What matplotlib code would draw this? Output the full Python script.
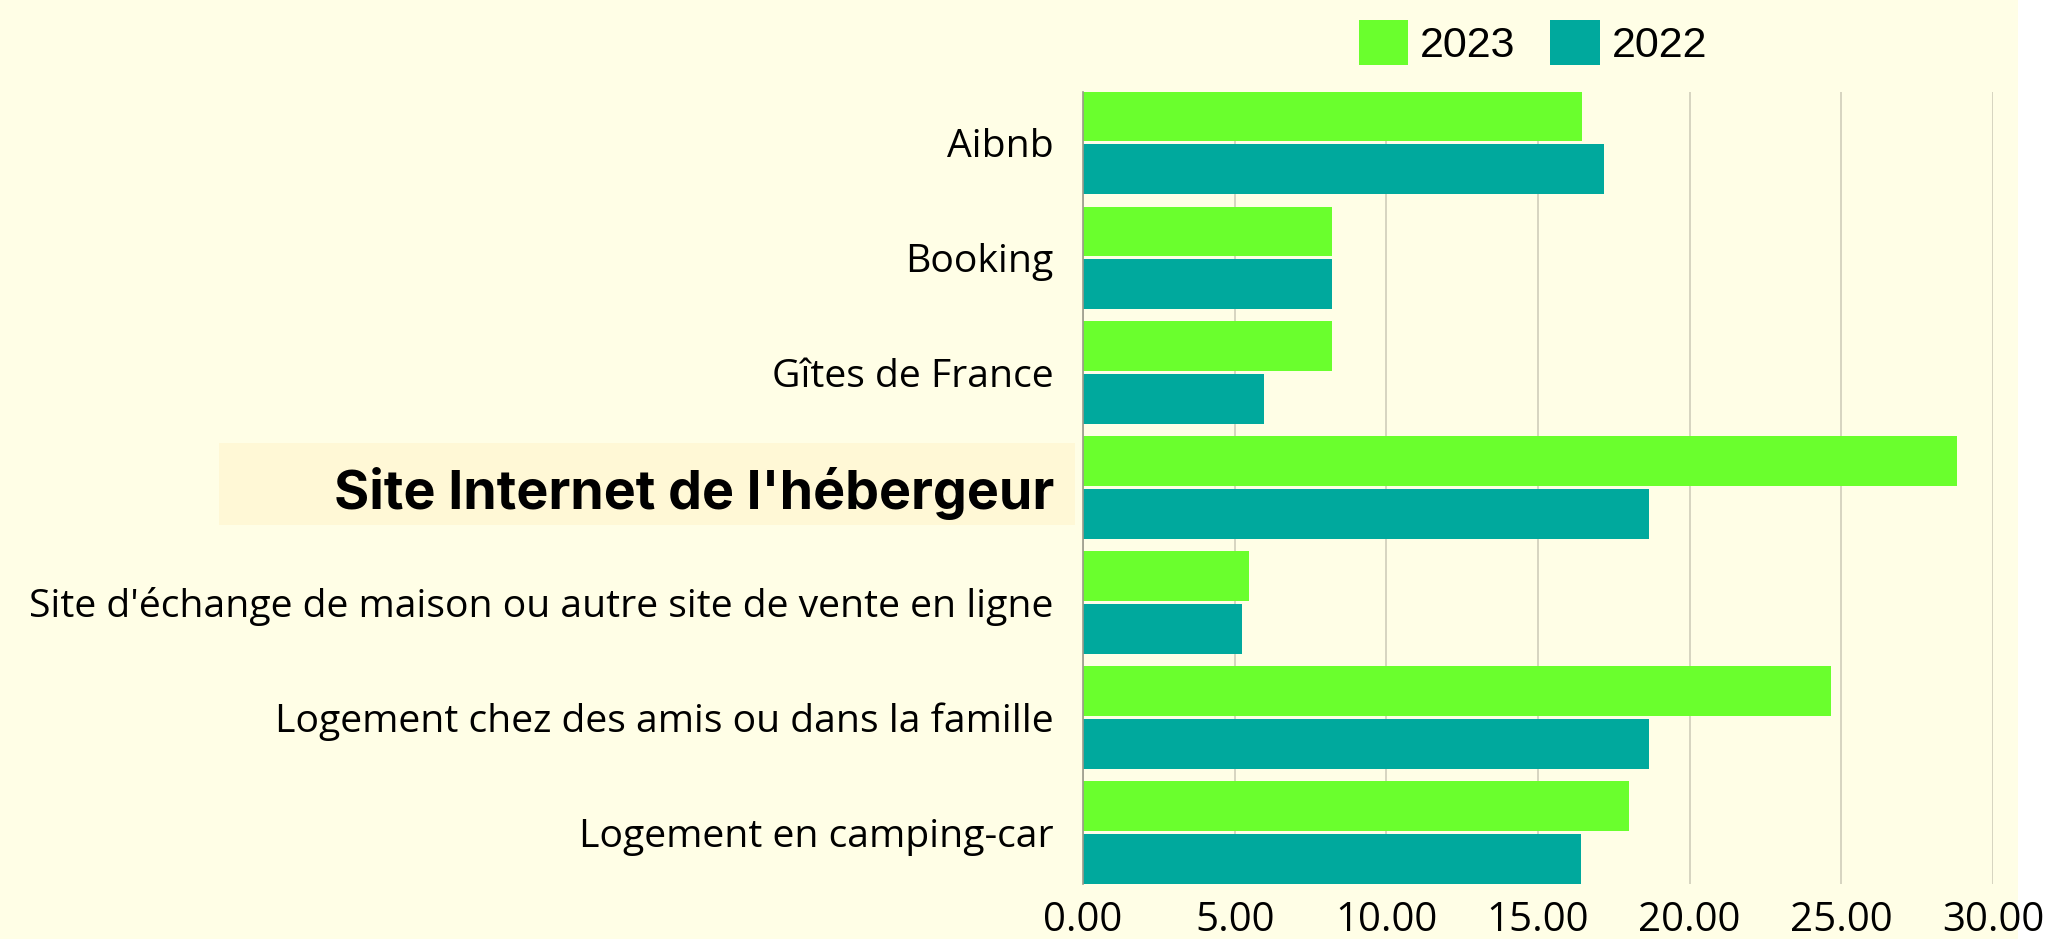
import matplotlib
matplotlib.use("Agg")
import matplotlib.pyplot as plt
from matplotlib.patches import Rectangle
import numpy as np

categories = [
    "Aibnb",
    "Booking",
    "Gîtes de France",
    "Site Internet de l'hébergeur",
    "Site d'échange de maison ou autre site de vente en ligne",
    "Logement chez des amis ou dans la famille",
    "Logement en camping-car",
]
values_2023 = [16.45, 8.2, 8.2, 28.8, 5.48, 24.66, 18.0]
values_2022 = [17.17, 8.2, 5.97, 18.66, 5.23, 18.66, 16.43]
series_labels = ["2023", "2022"]
xticks = [0, 5, 10, 15, 20, 25, 30]
highlight = "Site Internet de l'hébergeur"

BG = "#FFFEE6"
C2023 = "#6AFF2D"
C2022 = "#00A99D"

W, H = 2051, 939
fig = plt.figure(figsize=(W / 100, H / 100), dpi=100, facecolor=BG)
# white strip on the right edge
fig.patches.append(Rectangle((2018 / W, 0), 1 - 2018 / W, 1, transform=fig.transFigure,
                             facecolor="white", edgecolor="none", zorder=-10))
# highlight box behind the emphasized label
fig.patches.append(Rectangle((219 / W, 1 - 525 / H), (1075 - 219) / W, (525 - 443) / H,
                             transform=fig.transFigure, facecolor="#FFF8D6",
                             edgecolor="none", zorder=-5))

left = 1083 / W
right = 1993 / W
top = 91.6 / H
bottom = 883.5 / H
ax = fig.add_axes([left, 1 - bottom, right - left, bottom - top])
ax.set_facecolor("none")

y = np.arange(len(categories))
h = 0.433
off = 0.2295
ax.barh(y - off, values_2023, height=h, color=C2023, label=series_labels[0], zorder=3)
ax.barh(y + off, values_2022, height=h, color=C2022, label=series_labels[1], zorder=3)

ax.set_xlim(0, 30)
ax.set_ylim(len(categories) - 1 + 0.446, -0.446)
ax.set_xticks(xticks)
ax.set_xticklabels([f"{v:.2f}" for v in xticks], fontsize=29, family="Open Sans")
ax.set_yticks(y)
ax.set_yticklabels(categories, fontsize=28.2, family="Open Sans")
for lab in ax.get_yticklabels():
    if lab.get_text() == highlight:
        lab.set_fontsize(38.7)
        lab.set_fontweight("bold")
        lab.set_family("Inter")
ax.tick_params(axis="both", length=0, colors="black")
ax.tick_params(axis="y", pad=21)
ax.tick_params(axis="x", pad=12)

ax.grid(axis="x", color="#CFCDBA", linewidth=1.2, zorder=0)
ax.grid(axis="y", visible=False)
for s in ["top", "right", "bottom"]:
    ax.spines[s].set_visible(False)
ax.spines["left"].set_color("#9A9A8A")
ax.spines["left"].set_linewidth(1.2)
ax.spines["left"].set_zorder(4)

leg = fig.legend(loc="upper left", bbox_to_anchor=(1320 / W, 1 + 19 / H), ncol=2,
                 frameon=False, prop={"family": "Liberation Sans", "size": 31},
                 handlelength=1.15, handleheight=1.25, handletextpad=0.28,
                 columnspacing=0.8)

fig.savefig("out.png", dpi=100, facecolor=BG)
